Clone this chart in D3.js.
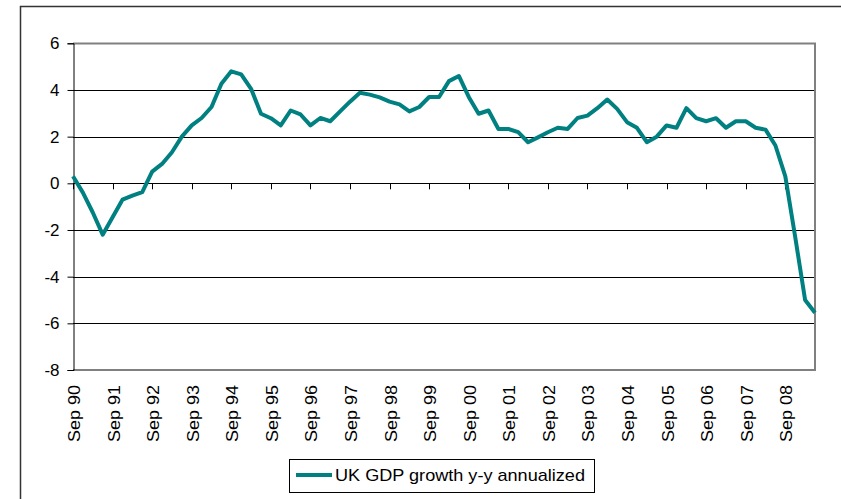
<!DOCTYPE html>
<html>
<head>
<meta charset="utf-8">
<script src="https://cdn.jsdelivr.net/npm/d3@7"></script>
<style>
  html, body { margin: 0; padding: 0; background: #fff; }
  svg { display: block; font-family: "Liberation Sans", Arial, sans-serif; }
</style>
</head>
<body>
<svg id="chart" width="841" height="499"></svg>
<script>
// Quarterly categories, Sep 1990 .. Jun 2009
const quarters = [
  "Sep 90","Dec 90","Mar 91","Jun 91","Sep 91","Dec 91","Mar 92","Jun 92",
  "Sep 92","Dec 92","Mar 93","Jun 93","Sep 93","Dec 93","Mar 94","Jun 94",
  "Sep 94","Dec 94","Mar 95","Jun 95","Sep 95","Dec 95","Mar 96","Jun 96",
  "Sep 96","Dec 96","Mar 97","Jun 97","Sep 97","Dec 97","Mar 98","Jun 98",
  "Sep 98","Dec 98","Mar 99","Jun 99","Sep 99","Dec 99","Mar 00","Jun 00",
  "Sep 00","Dec 00","Mar 01","Jun 01","Sep 01","Dec 01","Mar 02","Jun 02",
  "Sep 02","Dec 02","Mar 03","Jun 03","Sep 03","Dec 03","Mar 04","Jun 04",
  "Sep 04","Dec 04","Mar 05","Jun 05","Sep 05","Dec 05","Mar 06","Jun 06",
  "Sep 06","Dec 06","Mar 07","Jun 07","Sep 07","Dec 07","Mar 08","Jun 08",
  "Sep 08","Dec 08","Mar 09","Jun 09"
];
// UK GDP growth y-y annualized (%)
const gdpGrowth = [
  0.3, -0.4, -1.25, -2.2, -1.45, -0.7, -0.53, -0.38,
  0.5, 0.83, 1.33, 2.0, 2.48, 2.8, 3.27, 4.27,
  4.8, 4.67, 4.05, 2.98, 2.79, 2.48, 3.12, 2.95,
  2.48, 2.8, 2.66, 3.08, 3.5, 3.88, 3.8, 3.68,
  3.5, 3.38, 3.08, 3.27, 3.7, 3.7, 4.38, 4.6,
  3.7, 2.98, 3.12, 2.33, 2.33, 2.19, 1.76, 1.97,
  2.19, 2.38, 2.33, 2.8, 2.9, 3.22, 3.59, 3.19,
  2.62, 2.38, 1.76, 2.0, 2.48, 2.38, 3.22, 2.79,
  2.66, 2.79, 2.38, 2.66, 2.66, 2.38, 2.3, 1.62,
  0.3, -2.3, -5.0, -5.55
];
const yTicks = [-8, -6, -4, -2, 0, 2, 4, 6];
const seriesName = "UK GDP growth y-y annualized";

const svg = d3.select("#chart");
const plot = { left: 73, right: 815, top: 43.3, bottom: 370 };

const x = d3.scalePoint().domain(quarters).range([plot.left, plot.right]);
const y = d3.scaleLinear().domain([-8, 6]).range([plot.bottom, plot.top]);

// outer chart border
svg.append("rect")
  .attr("x", 20.5).attr("y", 6.5).attr("width", 840).attr("height", 520)
  .attr("fill", "none").attr("stroke", "#333").attr("stroke-width", 1.5);

// gridlines
svg.append("g").selectAll("line").data(yTicks.filter(d => d !== -8 && d !== 6)).join("line")
  .attr("x1", plot.left).attr("x2", plot.right)
  .attr("y1", d => Math.round(y(d)) + 0.5).attr("y2", d => Math.round(y(d)) + 0.5)
  .attr("stroke", "#000").attr("stroke-width", 1);

// plot area border (grey): top, right, bottom
svg.append("path")
  .attr("d", `M${plot.left},${Math.round(y(6)) + 0.5}H${plot.right}V${Math.round(y(-8))}H${plot.left}`)
  .attr("fill", "none").attr("stroke", "#808080").attr("stroke-width", 2);

// y axis
const yAxis = d3.axisLeft(y).tickValues(yTicks).tickSize(6).tickPadding(8)
  .tickFormat(d => String(d));
const gy = svg.append("g").attr("transform", `translate(${plot.left + 0.5},0)`).call(yAxis);
gy.select(".domain").attr("stroke", "#000");
gy.selectAll(".tick line").attr("stroke", "#000");
gy.selectAll("text").attr("font-size", 17).attr("fill", "#000")
  .attr("font-family", "'Liberation Sans', Arial, sans-serif");

// x tick marks on the zero line (every 4th quarter)
const yearCats = quarters.filter((d, i) => i % 4 === 0);
svg.append("g").selectAll("line").data(yearCats).join("line")
  .attr("x1", d => Math.round(x(d)) + 0.5).attr("x2", d => Math.round(x(d)) + 0.5)
  .attr("y1", y(0)).attr("y2", y(0) + 6)
  .attr("stroke", "#000").attr("stroke-width", 1);

// x labels (rotated)
svg.append("g").selectAll("text").data(yearCats).join("text")
  .attr("transform", d => `translate(${x(d) + 1},385) rotate(-90)`)
  .attr("text-anchor", "end")
  .attr("dy", "0.35em")
  .attr("font-size", 17)
  .attr("textLength", 57)
  .attr("lengthAdjust", "spacingAndGlyphs")
  .attr("fill", "#000")
  .text(d => d);

// line
const line = d3.line().x((d, i) => x(quarters[i])).y(d => y(d));
svg.append("path")
  .datum(gdpGrowth)
  .attr("d", line)
  .attr("fill", "none")
  .attr("stroke", "#008080")
  .attr("stroke-width", 4)
  .attr("stroke-linejoin", "round");

// legend
const lg = svg.append("g");
lg.append("rect").attr("x", 289.5).attr("y", 459.5).attr("width", 305).attr("height", 33)
  .attr("fill", "#fff").attr("stroke", "#000").attr("stroke-width", 1);
lg.append("line").attr("x1", 296).attr("x2", 332).attr("y1", 475).attr("y2", 475)
  .attr("stroke", "#008080").attr("stroke-width", 4);
lg.append("text").attr("x", 335).attr("y", 481)
  .attr("font-size", 17).attr("fill", "#000")
  .attr("textLength", 250).attr("lengthAdjust", "spacingAndGlyphs")
  .text(seriesName);
</script>
</body>
</html>
